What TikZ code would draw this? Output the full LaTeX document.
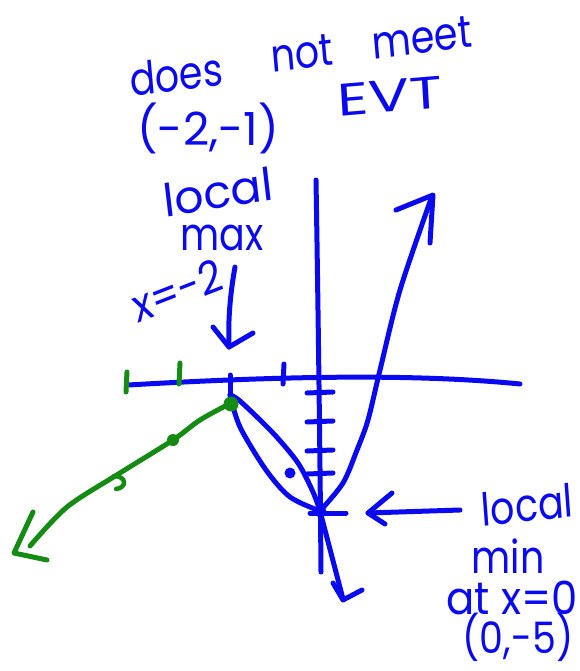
\documentclass[tikz,border=0pt]{standalone}
\usepackage{fontspec}
\setmainfont{Poppins}
\usetikzlibrary{positioning}
\definecolor{myblue}{RGB}{10,10,240}
\definecolor{mygreen}{RGB}{20,140,20}
\tikzset{pen/.style={line width=5pt,line cap=round,line join=round},
  hand/.style={font=\fontsize{38}{38}\selectfont,text=myblue,inner sep=0pt,
    yscale=1.2,transform shape}}

\begin{document}
\begin{tikzpicture}[x=1pt,y=-1pt]
  \useasboundingbox (0,0) rectangle (579,671);
  % axes and their ticks
  \draw[myblue,pen] (128,385) .. controls (250,378) and (400,372) .. (520,384);
  \draw[myblue,pen] (316,180) .. controls (318,300) and (320,450) .. (321,572);
  \draw[mygreen,pen] (127,372) -- (126,392);
  \draw[mygreen,pen] (180,363) -- (179,384);
  \draw[myblue,pen] (230,375) -- (230,395);
  \draw[myblue,pen] (284,364) -- (283,384);
  \foreach \ty in {393,422,451,474}
    \draw[myblue,pen] (307,\ty) -- (333,\ty-1);
  \draw[myblue,pen] (310,513) -- (346,513);
  % blue curves through the local min
  \coordinate (vtx) at (320,511);
  \coordinate (mx) at (230,395);
  \draw[myblue,pen] plot[smooth] coordinates {(vtx) (343,483) (357,450) (368,420) (380,370) (400,290) (432,196)};
  \draw[myblue,pen] (396,210) -- (433,195) -- (430,243);
  \draw[myblue,pen] plot[smooth] coordinates {(mx) (240,401) (273,433) (298,463) (313,492) (vtx)};
  \draw[myblue,pen] plot[smooth] coordinates {(mx) (240,427) (266,470) (290,497) (vtx)};
  \draw[myblue,pen] (vtx) -- (343,599);
  \draw[myblue,pen] (333,583) -- (343,600) -- (362,590);
  \fill[myblue] (290,473) circle (5.5);
  \fill[myblue] (vtx) circle (6);
  % green piece to the left
  \draw[mygreen,pen] plot[smooth] coordinates {(231,403) (200,420) (173,440) (120,473) (67,507) (30,546)};
  \draw[mygreen,pen] (33,512) -- (14,553) -- (47,560);
  \draw[mygreen,line width=4.5pt,line cap=round] (114,476) .. controls (127,476) and (127,488) .. (116,489);
  \fill[mygreen] (231,404) circle (7.5);
  \fill[mygreen] (173,440) circle (6);
  % labels
  \node[hand,rotate=6] (does) at (176,74) {does};
  \node[hand,rotate=6] (not) at (302,53) {not};
  \node[hand,rotate=6] (meet) at (422,38) {meet};
  \node[hand,xscale=1.2] (pt) at (208,128) {(-2,-1)};
  \node[hand,rotate=4,xscale=1.6] (evt) at (390,96) {EVT};
  \node[hand,rotate=8,xscale=1.2] (lmax) at (218,192) {local};
  \node[hand] (max) at (222,238) {max};
  \node[hand,rotate=18,xscale=1.05] (xm) at (177,290) {x=-2};
  \node[hand,rotate=5] (lmin) at (527,505) {local};
  \node[hand] (min) at (508,556) {min};
  \node[hand,xscale=1.1] (at) at (512,598) {at x=0};
  \node[hand,yscale=0.95] (pmin) at (518,637) {(0,-5)};
  % pointers
  \coordinate (tmax) at (229,347);
  \coordinate (tmin) at (368,513);
  \draw[myblue,pen] (235,267) .. controls (230,295) and (228,320) .. (tmax);
  \draw[myblue,pen] (213,327) -- (tmax) -- (253,333);
  \draw[myblue,pen] (460,510) -- (tmin);
  \draw[myblue,pen] (392,493) -- (tmin) -- (385,524);
\end{tikzpicture}
\end{document}
